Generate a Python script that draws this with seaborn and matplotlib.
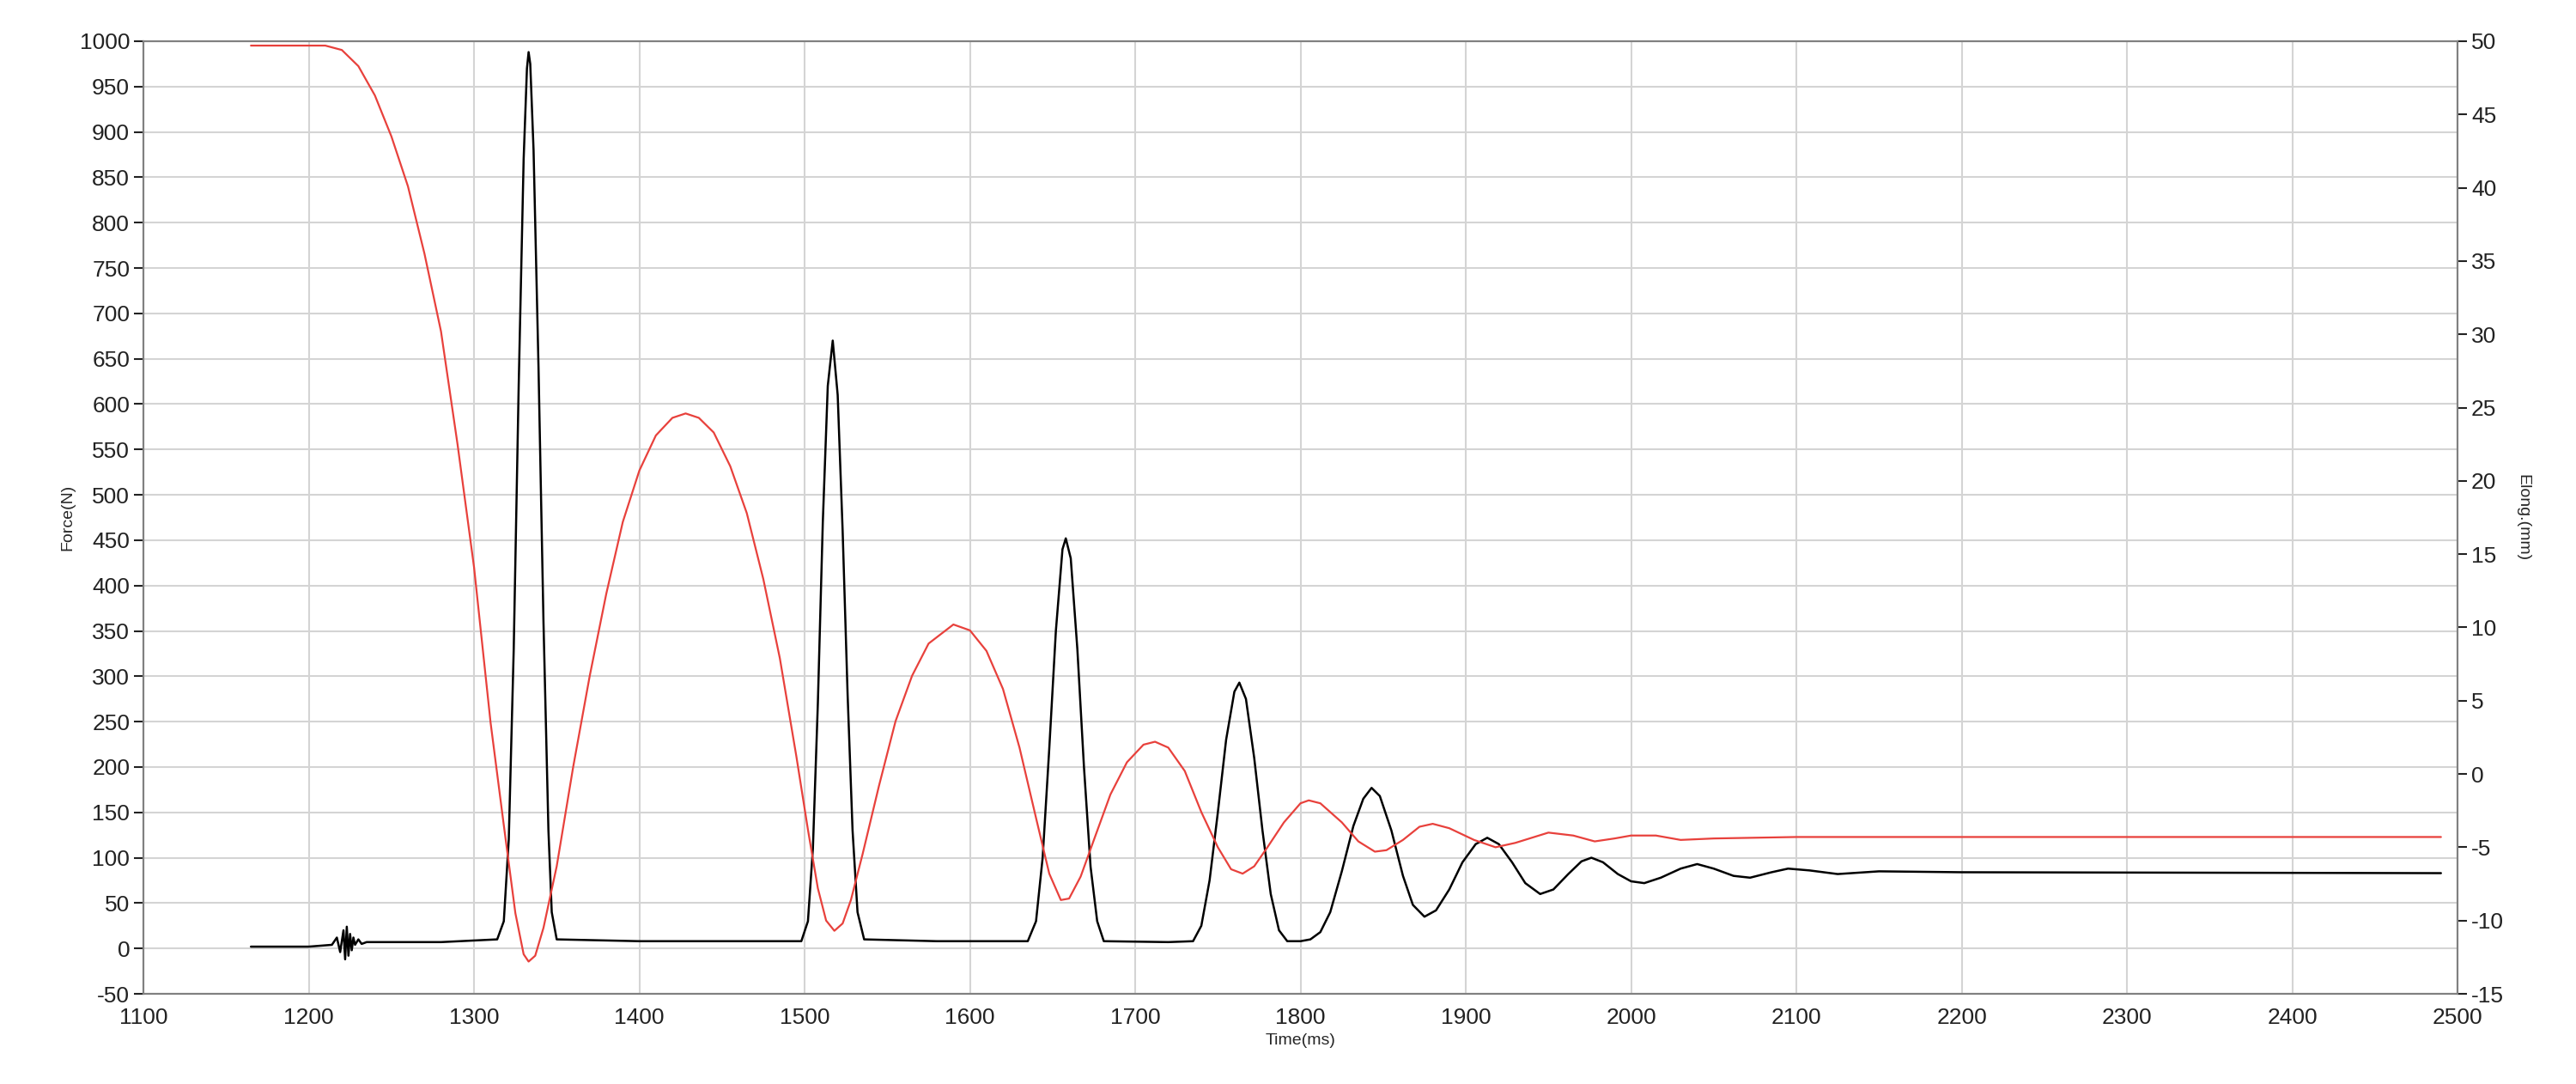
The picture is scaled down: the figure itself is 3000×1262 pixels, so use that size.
import matplotlib
matplotlib.use("Agg")
import matplotlib.pyplot as plt
import seaborn as sns
import pandas as pd

sns.set_style("white")
plt.rcParams['font.family'] = ['Liberation Sans', 'DejaVu Sans']
plt.rcParams['axes.unicode_minus'] = False

force_t = [1165, 1200, 1214, 1217, 1219, 1221, 1222, 1223, 1224, 1225, 1226, 1227, 1228, 1230, 1232, 1235, 1250, 1280,
           1314, 1318, 1321, 1324, 1327, 1330, 1332, 1333, 1334, 1336, 1339, 1342, 1345, 1347, 1350, 1400, 1450,
           1498, 1502, 1505, 1508, 1511, 1514, 1517, 1520, 1523, 1526, 1529, 1532, 1536, 1580,
           1635, 1640, 1644, 1648, 1652, 1656, 1658, 1661, 1665, 1669, 1673, 1677, 1681, 1720,
           1735, 1740, 1745, 1750, 1755, 1760, 1763, 1767, 1772, 1777, 1782, 1787, 1792,
           1800, 1806, 1812, 1818, 1825, 1832, 1838, 1843, 1848, 1855, 1862, 1868, 1875, 1882, 1890,
           1898, 1906, 1913, 1920, 1928, 1936, 1945, 1953, 1962, 1970, 1976, 1983, 1992, 2000, 2008,
           2018, 2030, 2040, 2050, 2062, 2072, 2085, 2095, 2108, 2125, 2150, 2200, 2490]
force_v = [2, 2, 4, 12, -4, 20, -12, 24, -8, 16, -2, 12, 4, 10, 5, 7, 7, 7,
           10, 30, 120, 330, 620, 870, 970, 988, 975, 880, 640, 360, 130, 40, 10, 8, 8,
           8, 30, 110, 270, 470, 620, 670, 610, 460, 280, 130, 40, 10, 8,
           8, 30, 100, 220, 350, 440, 452, 430, 330, 200, 90, 30, 8, 7,
           8, 25, 75, 150, 230, 283, 293, 275, 210, 130, 60, 20, 8,
           8, 10, 18, 40, 85, 135, 165, 177, 168, 130, 80, 48, 35, 42, 65,
           95, 115, 122, 115, 95, 72, 60, 65, 82, 96, 100, 95, 82, 74, 72,
           78, 88, 93, 88, 80, 78, 84, 88, 86, 82, 85, 84, 83]

elong_t = [1165, 1210, 1220, 1230, 1240, 1250, 1260, 1270, 1280, 1290, 1300, 1310, 1318, 1325, 1330, 1333,
           1337, 1342, 1350, 1360, 1370, 1380, 1390, 1400, 1410, 1420, 1428, 1436, 1445, 1455, 1465,
           1475, 1485, 1495, 1502, 1508, 1513, 1518, 1523, 1528, 1535, 1545, 1555, 1565, 1575, 1590,
           1600, 1610, 1620, 1630, 1640, 1648, 1655, 1660, 1667, 1675, 1685, 1695, 1705, 1712, 1720,
           1730, 1740, 1750, 1758, 1765, 1772, 1780, 1790, 1800, 1805, 1812, 1825, 1835, 1845, 1852,
           1862, 1872, 1880, 1890, 1905, 1918, 1930, 1950, 1965, 1978, 1990, 2000, 2015, 2030, 2050,
           2100, 2490]
elong_v = [49.7, 49.7, 49.4, 48.3, 46.3, 43.5, 40.1, 35.5, 30.2, 22.5, 14.1, 3.5, -3.5, -9.5, -12.3, -12.8,
           -12.4, -10.5, -6.3, 0.5, 6.7, 12.3, 17.2, 20.7, 23.1, 24.3, 24.6, 24.3, 23.3, 21.0, 17.8,
           13.3, 7.9, 1.2, -3.8, -7.8, -10.0, -10.7, -10.2, -8.6, -5.5, -0.8, 3.6, 6.7, 8.9, 10.2,
           9.8, 8.4, 5.8, 1.8, -3.0, -6.8, -8.6, -8.5, -7.0, -4.5, -1.4, 0.8, 2.0, 2.2, 1.8,
           0.2, -2.6, -5.0, -6.5, -6.8, -6.3, -5.0, -3.3, -2.0, -1.8, -2.0, -3.3, -4.6, -5.3, -5.2,
           -4.5, -3.6, -3.4, -3.7, -4.5, -5.0, -4.7, -4.0, -4.2, -4.6, -4.4, -4.2, -4.2, -4.5, -4.4,
           -4.3, -4.3]

df_f = pd.DataFrame({"t": force_t, "v": force_v})
df_e = pd.DataFrame({"t": elong_t, "v": elong_v})

fig = plt.figure(figsize=(30, 12.62), dpi=100)
ax = fig.add_axes([0.0557, 0.0832, 0.8983, 0.8788])
ax2 = ax.twinx()

sns.lineplot(data=df_e, x="t", y="v", ax=ax2, color="#e8413c", lw=1.6)
sns.lineplot(data=df_f, x="t", y="v", ax=ax, color="black", lw=1.8)

ax.set_xlim(1100, 2500)
ax.set_ylim(-50, 1000)
ax2.set_ylim(-15, 50)
ax.set_xticks(range(1100, 2501, 100))
ax.set_yticks(range(-50, 1001, 50))
ax2.set_yticks(range(-15, 51, 5))
ax.grid(True, color="#d4d4d4", lw=1.5)
for a in (ax, ax2):
    for s in a.spines.values():
        s.set_color("#808080")
        s.set_linewidth(1.5)
    a.tick_params(labelsize=19, length=8, width=1.5, direction="out", colors="#222222")
ax.set_xlabel("Time(ms)", fontsize=14)
ax.set_ylabel("Force(N)", fontsize=14)
ax2.set_ylabel("Elong.(mm)", fontsize=14, rotation=270, labelpad=22)
fig.savefig("out.png", dpi=100)
